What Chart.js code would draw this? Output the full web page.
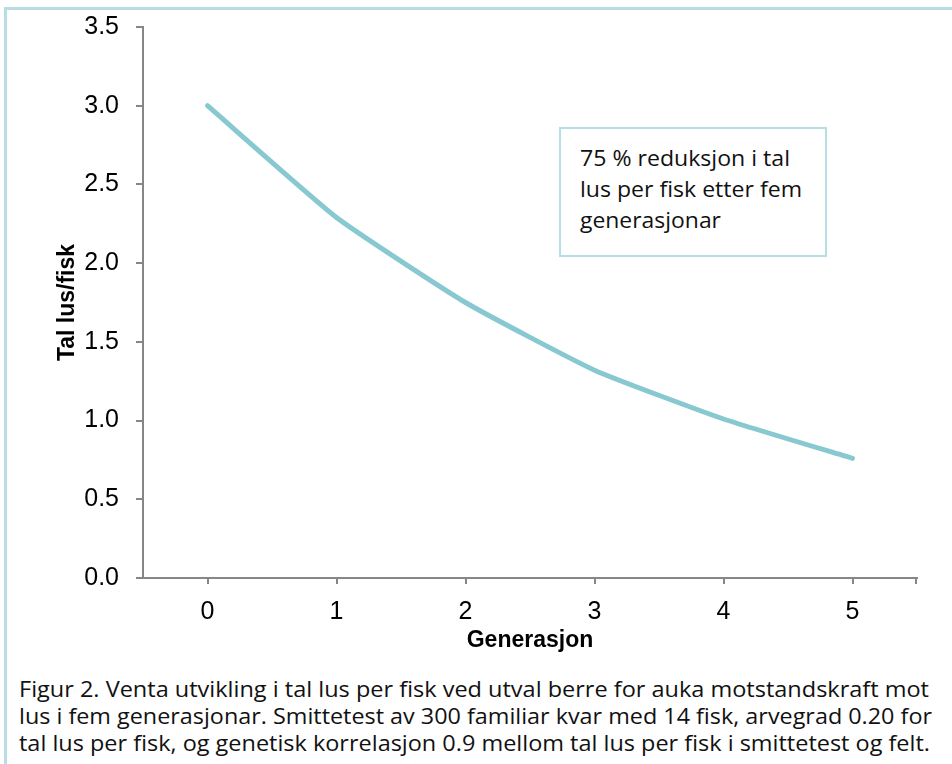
<!DOCTYPE html>
<html>
<head>
<meta charset="utf-8">
<script src="https://cdn.jsdelivr.net/npm/chart.js@4.4.1/dist/chart.umd.min.js"></script>
<style>
  html, body { margin: 0; padding: 0; background: #fff; }
  #wrap { position: relative; width: 952px; height: 764px; overflow: hidden; }
  #frame { position: absolute; left: 4px; top: 7px; width: 960px; height: 780px; border: 3px solid #b7dfe3; box-sizing: border-box; }
  #chartBox { position: absolute; left: 0; top: -5px; width: 952px; height: 665px; }
  #note { position: absolute; left: 559px; top: 127px; width: 268px; height: 130px; border: 2px solid #b7dfe3; box-sizing: border-box; background: #fff;
          font-family: "Open Sans", sans-serif; font-size: 21px; line-height: 31px; color: #111; padding: 14px 0 0 19px; }
  #caption { position: absolute; left: 19px; top: 676px; font-family: "Open Sans", sans-serif; font-size: 21px; line-height: 27px; color: #111; }
  .ln { white-space: nowrap; transform-origin: left center; display: block; width: max-content; }
</style>
</head>
<body>
<div id="wrap">
  <div id="frame"></div>
  <div id="chartBox"><canvas id="can" width="952" height="665"></canvas></div>
  <div id="note">
    <span class="ln" data-w="210">75 % reduksjon i tal</span>
    <span class="ln" data-w="222">lus per fisk etter fem</span>
    <span class="ln" data-w="141">generasjonar</span>
  </div>
  <div id="caption">
    <span class="ln" data-w="910">Figur 2. Venta utvikling i tal lus per fisk ved utval berre for auka motstandskraft mot</span>
    <span class="ln" data-w="913">lus i fem generasjonar. Smittetest av 300 familiar kvar med 14 fisk, arvegrad 0.20 for</span>
    <span class="ln" data-w="911">tal lus per fisk, og genetisk korrelasjon 0.9 mellom tal lus per fisk i smittetest og felt.</span>
  </div>
</div>
<script>
var generasjon = ['0', '1', '2', '3', '4', '5'];
var talLus = [3.0, 2.29, 1.75, 1.32, 1.01, 0.76];
var yTicks = [0, 0.5, 1.0, 1.5, 2.0, 2.5, 3.0, 3.5];

// fit text lines to the widths in the picture
document.querySelectorAll('.ln').forEach(function (el) {
    var w = el.getBoundingClientRect().width;
    el.style.transform = 'scaleX(' + (parseFloat(el.dataset.w) / w) + ')';
});

var axisGrey = '#868686';

// Excel draws one more tick at the right end of the category axis
var endTick = {
    id: 'endTick',
    afterDraw: function (chart) {
        var x = chart.scales.x;
        var ctx = chart.ctx;
        ctx.save();
        ctx.strokeStyle = axisGrey;
        ctx.lineWidth = 2;
        ctx.beginPath();
        ctx.moveTo(x.right - 1, x.top);
        ctx.lineTo(x.right - 1, x.top + 6);
        ctx.stroke();
        ctx.restore();
    }
};

var ctx = document.getElementById('can').getContext('2d');
window.myLine = new Chart(ctx, {
    type: 'line',
    data: {
        labels: generasjon,
        datasets: [{
            label: 'Tal lus/fisk',
            data: talLus,
            borderColor: '#88c8d0',
            borderWidth: 5,
            borderCapStyle: 'round',
            borderJoinStyle: 'round',
            tension: 0.15,
            pointRadius: 0,
            fill: false
        }]
    },
    options: {
        responsive: false,
        animation: false,
        layout: { padding: { left: 50, top: 16, right: 35, bottom: 6 } },
        plugins: { legend: { display: false }, tooltip: { enabled: false } },
        scales: {
            x: {
                offset: true,
                afterFit: function (s) { s.height = 76; },
                border: { color: axisGrey, width: 2 },
                grid: { drawOnChartArea: false, color: axisGrey, lineWidth: 2, tickLength: 6, offset: false },
                ticks: { color: '#000', font: { family: 'Liberation Sans', size: 25 }, padding: 13 },
                title: { display: true, text: 'Generasjon', color: '#000',
                         font: { family: 'Liberation Sans', size: 23, weight: 'bold' }, padding: { top: 0, bottom: 0 } }
            },
            y: {
                min: 0, max: 3.5,
                afterFit: function (s) { s.width = 93; },
                afterBuildTicks: function (s) { s.ticks = yTicks.map(function (v) { return { value: v }; }); },
                border: { color: axisGrey, width: 2 },
                grid: { drawOnChartArea: false, color: axisGrey, lineWidth: 2, tickLength: 7 },
                ticks: { color: '#000', font: { family: 'Liberation Sans', size: 25 }, padding: 17,
                         callback: function (v) { return v.toFixed(1); } },
                title: { display: true, text: 'Tal lus/fisk', color: '#000',
                         font: { family: 'Liberation Sans', size: 23, weight: 'bold' }, padding: { top: 4, bottom: 0 } }
            }
        }
    },
    plugins: [endTick]
});
</script>
</body>
</html>
